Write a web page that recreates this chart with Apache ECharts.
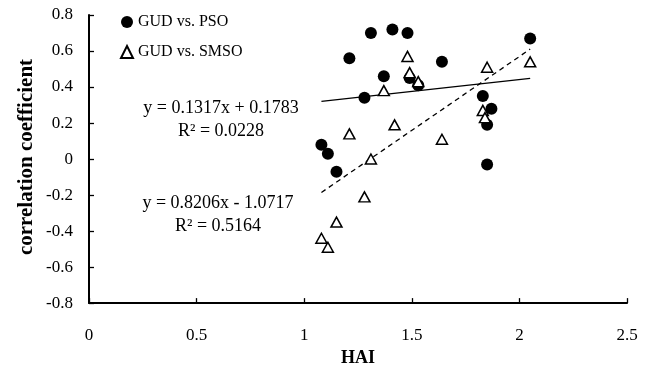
<!DOCTYPE html>
<html>
<head>
<meta charset="utf-8">
<script src="https://cdn.jsdelivr.net/npm/echarts@6/dist/echarts.min.js"></script>
<style>html,body{margin:0;padding:0;background:#fff}#c{width:655px;height:372px}</style>
</head>
<body>
<div id="c"></div>
<script>
var psoHAI = [1.31, 1.41, 1.48, 1.21, 1.64, 1.37, 1.49, 1.53, 1.28, 1.83, 1.87, 1.85, 1.08, 1.11, 1.15, 1.85, 2.05];
var psoR   = [0.70, 0.72, 0.70, 0.56, 0.54, 0.46, 0.45, 0.41, 0.34, 0.35, 0.28, 0.19, 0.08, 0.03, -0.07, -0.03, 0.67];
var smsoHAI = [1.48, 1.49, 1.53, 1.37, 1.85, 1.83, 1.84, 1.42, 1.21, 1.64, 1.31, 2.05, 1.28, 1.15, 1.08, 1.11];
var smsoR   = [0.57, 0.48, 0.43, 0.38, 0.51, 0.27, 0.23, 0.19, 0.14, 0.11, 0.00, 0.54, -0.21, -0.35, -0.44, -0.49];
var seriesNames = ['GUD vs. PSO', 'GUD vs. SMSO'];
var trendSlope = [0.1317, 0.8206];
var trendIntercept = [0.1783, -1.0717];
var trendLabels = ['y = 0.1317x + 0.1783\nR² = 0.0228', 'y = 0.8206x - 1.0717\nR² = 0.5164'];
var xTitle = 'HAI';
var yTitle = 'correlation coefficient';
var xTicks = [0, 0.5, 1, 1.5, 2, 2.5];
var yTicks = [-0.8, -0.6, -0.4, -0.2, 0, 0.2, 0.4, 0.6, 0.8];

function zip(a, b) { return a.map(function (v, i) { return [v, b[i]]; }); }
function trend(xs, k) {
  var lo = Math.min.apply(null, xs), hi = Math.max.apply(null, xs);
  return [[lo, trendSlope[k] * lo + trendIntercept[k]], [hi, trendSlope[k] * hi + trendIntercept[k]]];
}
var FONT = '"Liberation Serif", "Times New Roman", serif';
var chart = echarts.init(document.getElementById('c'), null, {renderer: 'canvas'});
chart.setOption({
  animation: false,
  backgroundColor: '#fff',
  grid: {left: 89, right: 28, top: 15, bottom: 66},
  legend: {
    orient: 'vertical', left: 115, top: 8, itemGap: 12, itemWidth: 12, itemHeight: 12,
    data: seriesNames,
    textStyle: {fontFamily: FONT, fontSize: 16, color: '#000', lineHeight: 18}
  },
  xAxis: {
    type: 'value', min: xTicks[0], max: xTicks[xTicks.length - 1], interval: 0.5,
    name: xTitle, nameLocation: 'middle', nameGap: 42,
    nameTextStyle: {fontFamily: FONT, fontSize: 18, fontWeight: 'bold', color: '#000'},
    axisLine: {onZero: false, lineStyle: {color: '#000', width: 2}},
    axisTick: {inside: true, length: 5, lineStyle: {color: '#000', width: 1.3}},
    axisLabel: {fontFamily: FONT, fontSize: 17, color: '#000', margin: 24},
    splitLine: {show: false}
  },
  yAxis: {
    type: 'value', min: yTicks[0], max: yTicks[yTicks.length - 1], interval: 0.2,
    axisLine: {show: true, onZero: false, lineStyle: {color: '#000', width: 2}},
    axisTick: {show: true, inside: true, length: 5, lineStyle: {color: '#000', width: 1.3}},
    axisLabel: {fontFamily: FONT, fontSize: 17, color: '#000', margin: 16,
      formatter: function (v) { return String(Math.round(v * 10) / 10); }},
    splitLine: {show: false}
  },
  series: [
    {name: seriesNames[0], type: 'scatter', symbol: 'circle', symbolSize: 12,
      itemStyle: {color: '#000', opacity: 1}, data: zip(psoHAI, psoR), z: 3},
    {name: seriesNames[1], type: 'scatter', symbol: 'triangle', symbolSize: [11, 10],
      itemStyle: {color: '#fff', borderColor: '#000', borderWidth: 1.5, opacity: 1}, data: zip(smsoHAI, smsoR), z: 4},
    {name: 'trendPSO', type: 'line', data: trend(psoHAI, 0), symbol: 'none', silent: true,
      lineStyle: {color: '#000', width: 1.3, type: 'solid'}, z: 2},
    {name: 'trendSMSO', type: 'line', data: trend(smsoHAI, 1), symbol: 'none', silent: true,
      lineStyle: {color: '#000', width: 1.3, type: [5, 4]}, z: 2}
  ],
  graphic: [
    {type: 'text', x: 27, y: 157, rotation: Math.PI / 2,
      style: {text: yTitle, fontFamily: FONT, fontSize: 21, fontWeight: 'bold', fill: '#000', align: 'center', verticalAlign: 'middle'}},
    {type: 'text', x: 221, y: 97, style: {text: trendLabels[0], fontFamily: FONT, fontSize: 18, fill: '#000', align: 'center', lineHeight: 23}},
    {type: 'text', x: 218, y: 192, style: {text: trendLabels[1], fontFamily: FONT, fontSize: 18, fill: '#000', align: 'center', lineHeight: 23}}
  ]
});
</script>
</body>
</html>
